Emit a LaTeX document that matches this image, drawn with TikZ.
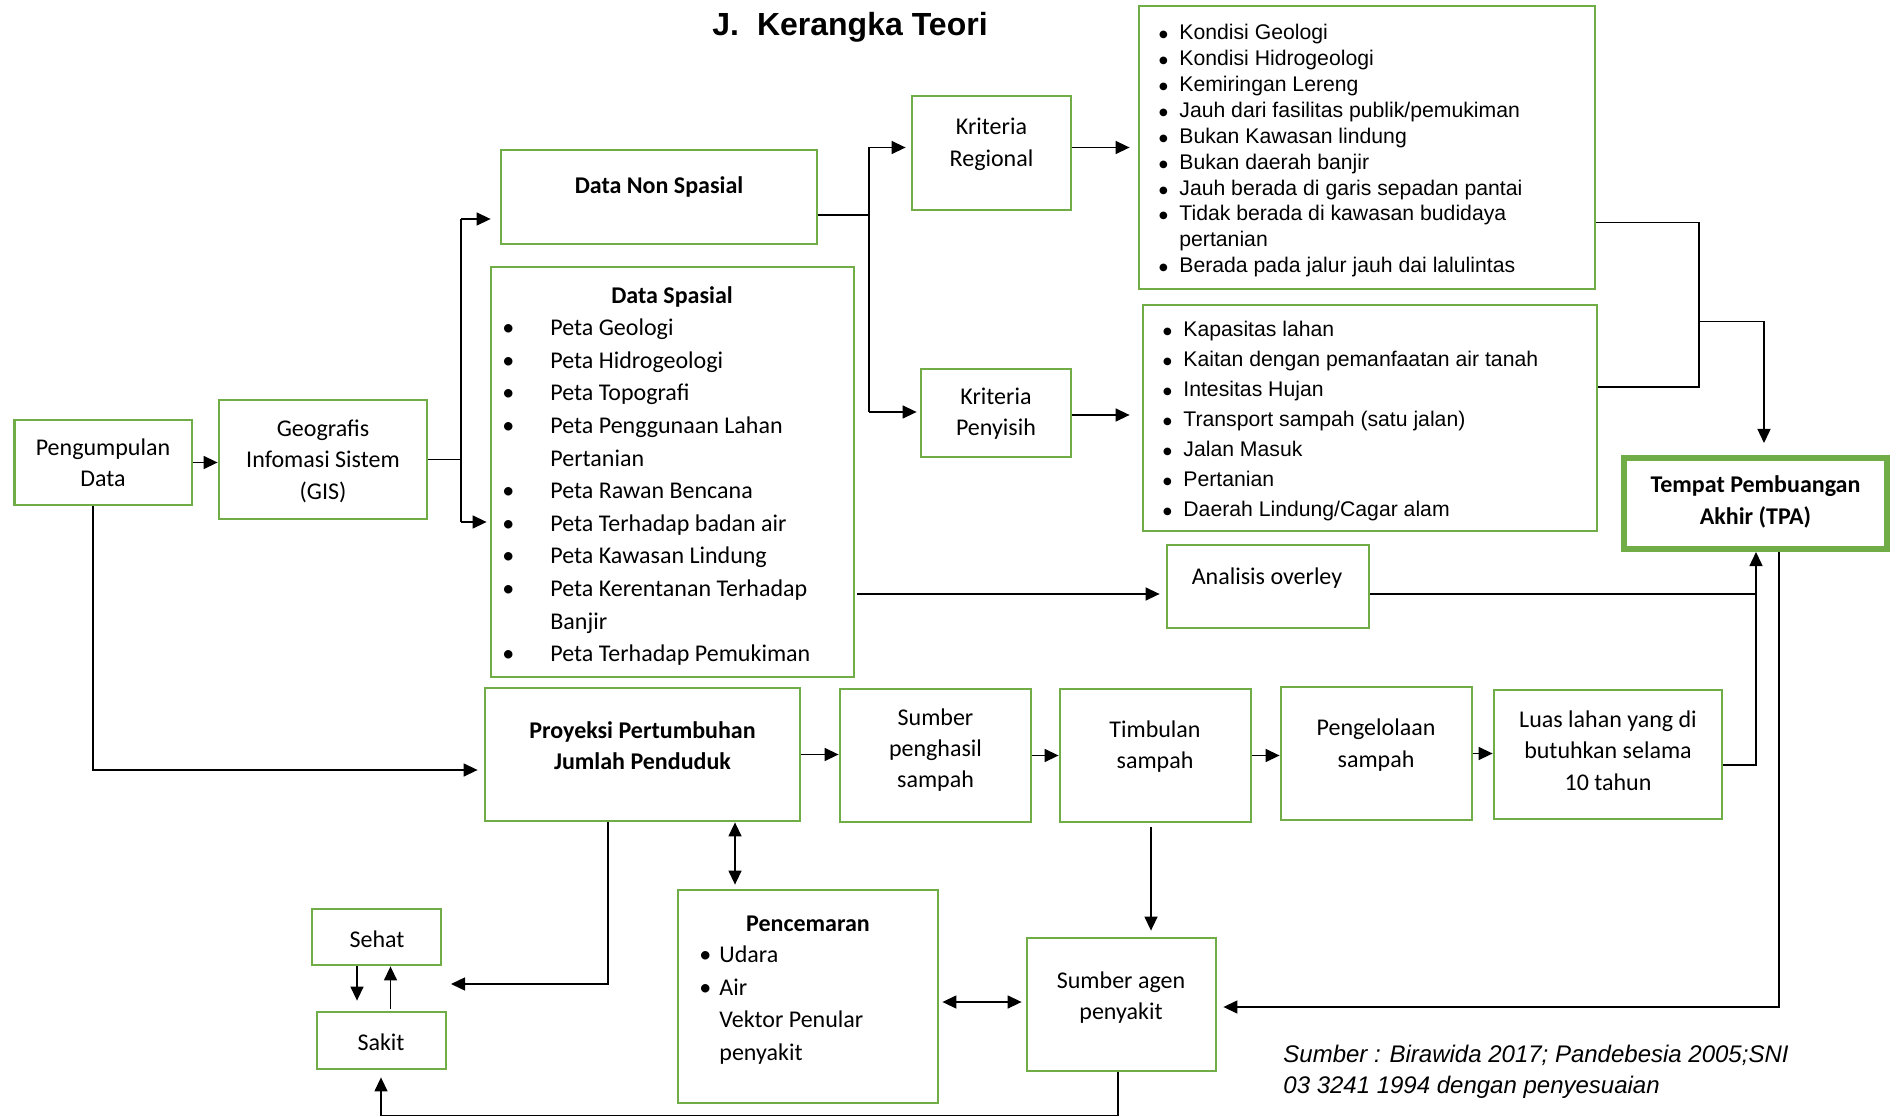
\documentclass[tikz,border=0pt]{standalone}
\usepackage{fontspec}
\setmainfont{Carlito}
\newfontfamily\arialf{Liberation Sans}
\newfontfamily\dejavuf{DejaVu Sans}
\usetikzlibrary{arrows.meta,calc,fit}
\definecolor{boxgreen}{RGB}{112,173,71}
\newcommand\abul{\makebox[0pt]{\raisebox{1pt}{\dejavuf\fontsize{5}{5}\selectfont ●}}}
\begin{document}
\begin{tikzpicture}[x=0.5pt,y=-0.5pt,
  box/.style={draw=boxgreen, line width=1.4pt, rectangle, inner sep=0pt},
  tshift/.style={yshift=-1.25pt},
  txt/.style={tshift, inner sep=0pt, align=center, font=\fontsize{12}{15.7}\selectfont},
  btxt/.style={tshift, inner sep=0pt, align=center, font=\bfseries\fontsize{12}{15.7}\selectfont},
  lst/.style={tshift, inner sep=0pt, align=left, anchor=west},
  ln/.style={line width=0.7pt},
  arr/.style={line width=0.7pt, -{Triangle[length=7pt,width=6.5pt]}},
  dbl/.style={line width=0.7pt, {Triangle[length=7pt,width=6.5pt]}-{Triangle[length=7pt,width=6.5pt]}}
]
\useasboundingbox (0,0) rectangle (1896,1117);

% title
\node[inner sep=0pt, font=\arialf\bfseries\fontsize{16}{19}\selectfont] (title) at (850,27) {J.\hspace{9pt}Kerangka Teori};

% boxes
\node[box, fit={(14.5,420) (192,505)}] (pd) {};
\node[box, fit={(219,400) (427,519)}] (gis) {};
\node[box, fit={(501,150) (817,244)}] (dns) {};
\node[box, fit={(491,267) (854,677)}] (ds) {};
\node[box, fit={(912,96) (1071,210)}] (kr) {};
\node[box, fit={(921,369) (1071,457)}] (kp) {};
\node[box, fit={(1139,6) (1595,289)}] (rl) {};
\node[box, fit={(1143,305) (1597,531)}] (pl) {};
\node[box, line width=3pt, fit={(1624,458) (1887,549)}] (tpa) {};
\node[box, fit={(1167,545) (1369,628)}] (an) {};
\node[box, fit={(485,688) (800,821)}] (pr) {};
\node[box, fit={(840,689) (1031,822)}] (sp) {};
\node[box, fit={(1060,689) (1251,822)}] (ti) {};
\node[box, fit={(1281,687) (1472,820)}] (pg) {};
\node[box, fit={(1494,690) (1722,819)}] (lu) {};
\node[box, fit={(312,909) (441,965)}] (se) {};
\node[box, fit={(317,1012) (446,1069)}] (sk) {};
\node[box, fit={(678,890) (938,1103)}] (pc) {};
\node[box, fit={(1027,938) (1216,1071)}] (ag) {};

% texts
\node[txt] (pd-t) at (103,460.5) {Pengumpulan\\Data};
\node[txt] (gis-t) at (323,458.5) {Geografis\\Infomasi Sistem\\(GIS)};
\node[btxt] (dns-t) at (659,184) {Data Non Spasial};
\node[btxt] (ds-t) at (672,294) {Data Spasial};
\node[lst, font=\fontsize{12}{16.3}\selectfont] (ds-l) at (508,489.75) {%
\makebox[0pt]{\textbullet}\hspace*{21pt}Peta Geologi\\
\makebox[0pt]{\textbullet}\hspace*{21pt}Peta Hidrogeologi\\
\makebox[0pt]{\textbullet}\hspace*{21pt}Peta Topografi\\
\makebox[0pt]{\textbullet}\hspace*{21pt}Peta Penggunaan Lahan\\
\hspace*{21pt}Pertanian\\
\makebox[0pt]{\textbullet}\hspace*{21pt}Peta Rawan Bencana\\
\makebox[0pt]{\textbullet}\hspace*{21pt}Peta Terhadap badan air\\
\makebox[0pt]{\textbullet}\hspace*{21pt}Peta Kawasan Lindung\\
\makebox[0pt]{\textbullet}\hspace*{21pt}Peta Kerentanan Terhadap\\
\hspace*{21pt}Banjir\\
\makebox[0pt]{\textbullet}\hspace*{21pt}Peta Terhadap Pemukiman};
\node[txt] (kr-t) at (991.5,142) {Kriteria\\Regional};
\node[txt] (kp-t) at (996,411) {Kriteria\\Penyisih};
\node[lst, font=\arialf\fontsize{10.6}{12.96}\selectfont] (rl-l) at (1163,148.2) {%
\abul\hspace*{8pt}Kondisi Geologi\\
\abul\hspace*{8pt}Kondisi Hidrogeologi\\
\abul\hspace*{8pt}Kemiringan Lereng\\
\abul\hspace*{8pt}Jauh dari fasilitas publik/pemukiman\\
\abul\hspace*{8pt}Bukan Kawasan lindung\\
\abul\hspace*{8pt}Bukan daerah banjir\\
\abul\hspace*{8pt}Jauh berada di garis sepadan pantai\\
\abul\hspace*{8pt}Tidak berada di kawasan budidaya\\
\hspace*{8pt}pertanian\\
\abul\hspace*{8pt}Berada pada jalur jauh dai lalulintas};
\node[lst, font=\arialf\fontsize{10.6}{15}\selectfont] (pl-l) at (1167,419) {%
\abul\hspace*{8pt}Kapasitas lahan\\
\abul\hspace*{8pt}Kaitan dengan pemanfaatan air tanah\\
\abul\hspace*{8pt}Intesitas Hujan\\
\abul\hspace*{8pt}Transport sampah (satu jalan)\\
\abul\hspace*{8pt}Jalan Masuk\\
\abul\hspace*{8pt}Pertanian\\
\abul\hspace*{8pt}Daerah Lindung/Cagar alam};
\node[btxt] (tpa-t) at (1755.5,499.5) {Tempat Pembuangan\\Akhir (TPA)};
\node[txt] (an-t) at (1267,575.6) {Analisis overley};
\node[btxt] (pr-t) at (642.5,743) {Proyeksi Pertumbuhan\\Jumlah Penduduk};
\node[txt] (sp-t) at (935.5,747.5) {Sumber\\penghasil\\sampah};
\node[txt] (ti-t) at (1155,744) {Timbulan\\sampah};
\node[txt] (pg-t) at (1376,742.5) {Pengelolaan\\sampah};
\node[txt] (lu-t) at (1608,748) {Luas lahan yang di\\butuhkan selama\\10 tahun};
\node[txt] (se-t) at (377,937) {Sehat};
\node[txt] (sk-t) at (381,1040) {Sakit};
\node[btxt] (pc-t) at (808,921) {Pencemaran};
\node[lst, font=\fontsize{12}{16.2}\selectfont] (pc-l) at (705,1002.5) {%
\makebox[0pt]{\textbullet}\hspace*{7pt}Udara\\
\makebox[0pt]{\textbullet}\hspace*{7pt}Air\\
\hspace*{7pt}Vektor Penular\\
\hspace*{7pt}penyakit};
\node[txt] (ag-t) at (1121,995) {Sumber agen\\penyakit};
\node[lst, font=\arialf\itshape\fontsize{12}{15.7}\selectfont] (src) at (1283,1069) {Sumber : Birawida 2017; Pandebesia 2005;SNI\\03 3241 1994 dengan penyesuaian};

% connectors
\draw[arr] (pd.east) -- (gis.west |- pd.east);

\coordinate (g1) at (461,219);
\coordinate (g2) at (461,522);
\draw[ln] (gis.east) -- (gis.east -| g1);
\draw[ln] (g1) -- (g2);
\draw[arr, shorten >=4.5pt] (g1) -- (dns.west |- g1);
\draw[arr, shorten >=1.5pt] (g2) -- (ds.west |- g2);

\coordinate (d0) at (869,215);
\coordinate (d1) at (869,147.5);
\coordinate (d2) at (869,412);
\draw[ln] (dns.east |- d0) -- (d0);
\draw[ln] (d1) -- (d2);
\draw[arr, shorten >=2.5pt] (d1) -- (kr.west |- d1);
\draw[arr, shorten >=1.5pt] (d2) -- (kp.west |- d2);

\coordinate (ka) at (1131,147.5);
\coordinate (kb) at (1131,415);
\draw[arr, shorten >=4pt] (kr.east |- ka) -- (rl.west |- ka);
\draw[arr, shorten >=6pt] (kp.east |- kb) -- (pl.west |- kb);

\coordinate (b1) at (1699,222.5);
\coordinate (b2) at (1699,387);
\coordinate (b3) at (1699,321.6);
\coordinate (b4) at (1764,321.6);
\draw[ln] (rl.east |- b1) -- (b1) -- (b2) -- (pl.east |- b2);
\draw[arr, shorten >=6pt] (b3) -- (b4) -- (tpa.north -| b4);

\coordinate (a1) at (857,594);
\draw[arr, shorten >=3pt] (a1) -- (an.west |- a1);
\coordinate (t1) at (1756,594);
\coordinate (t2) at (1756,765);
\draw[ln] (an.east |- t1) -- (t1);
\draw[arr] (lu.east |- t2) -- (t2) -- (tpa.south -| t2);

\coordinate (r1) at (1779,1007);
\draw[arr, shorten >=3pt] (tpa.south -| r1) -- (r1) -- (ag.east |- r1);

\coordinate (p1) at (93,770);
\draw[arr, shorten >=3pt] (pd.south -| p1) -- (p1) -- (pr.west |- p1);

\draw[arr] (pr.east) -- (sp.west |- pr.east);
\draw[arr] (sp.east) -- (ti.west |- sp.east);
\draw[arr] (ti.east) -- (pg.west |- ti.east);
\draw[arr] (pg.east) -- (lu.west |- pg.east);

\coordinate (s1) at (608,984);
\coordinate (s2) at (451,984);
\draw[arr] (pr.south -| s1) -- (s1) -- (s2);

\coordinate (c1) at (735,822);
\draw[dbl, shorten >=2pt] (pr.south -| c1) -- (pc.north -| c1);

\coordinate (h1) at (357,965);
\coordinate (h2) at (390.5,965);
\draw[arr, shorten >=5pt] (se.south -| h1) -- (sk.north -| h1);
\draw[arr, shorten <=1pt] (sk.north -| h2) -- (se.south -| h2);

\coordinate (v1) at (1151,826);
\draw[arr, shorten >=3pt, shorten <=2pt] (ti.south -| v1) -- (ag.north -| v1);

\coordinate (w1) at (941,1002);
\draw[dbl, shorten <=1.5pt, shorten >=2pt] (pc.east |- w1) -- (ag.west |- w1);

\coordinate (z1) at (1118,1115.5);
\coordinate (z2) at (381,1115.5);
\draw[arr, shorten >=3.5pt] (ag.south -| z1) -- (z1) -- (z2) -- (sk.south -| z2);
\end{tikzpicture}
\end{document}
